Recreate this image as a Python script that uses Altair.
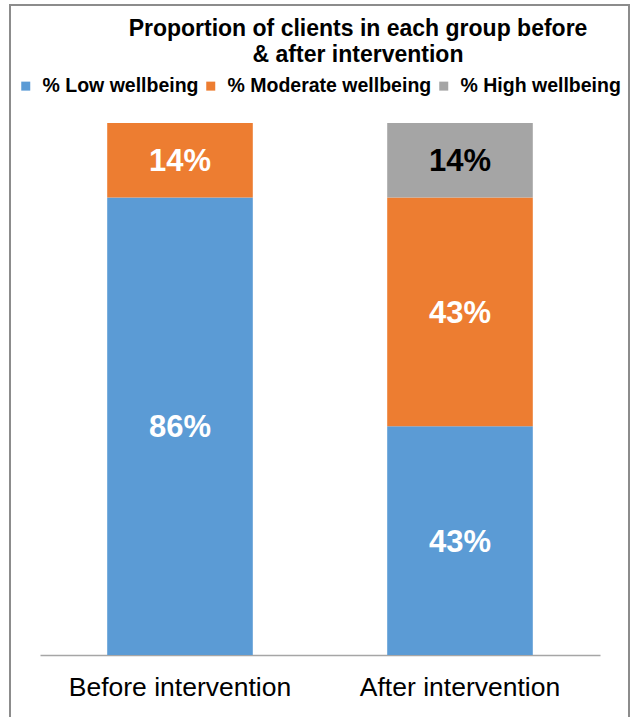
import altair as alt
import pandas as pd

groups = ["Before intervention", "After intervention"]
categories = ["% Low wellbeing", "% Moderate wellbeing", "% High wellbeing"]
before_vals = [86, 14, 0]
after_vals = [43, 43, 14]
colors = ["#5B9BD5", "#ED7D31", "#A5A5A5"]

rows = []
for g, vals in zip(groups, [before_vals, after_vals]):
    for i, (c, v) in enumerate(zip(categories, vals)):
        if v > 0:
            rows.append({"group": g, "cat": c, "idx": i, "value": v, "label": f"{v}%"})
df = pd.DataFrame(rows)

FONT = "Liberation Sans"

base = alt.Chart(df).transform_stack(
    stack="value", as_=["y0", "y1"], groupby=["group"], sort=[alt.SortField("idx", order="ascending")]
).transform_calculate(mid="(datum.y0 + datum.y1) / 2")

x = alt.X("group:N", sort=groups, title=None,
          scale=alt.Scale(paddingInner=0.48, paddingOuter=0.24),
          axis=alt.Axis(labelAngle=0, labelFont=FONT, labelFontSize=26.5, labelColor="#000000",
                        labelPadding=19, labelLimit=400, ticks=False,
                        domainColor="#A6A6A6", domainWidth=1.5))

bars = base.mark_bar().encode(
    x=x,
    y=alt.Y("y0:Q", scale=alt.Scale(domain=[0, 100]), axis=None),
    y2="y1:Q",
    color=alt.Color("cat:N", sort=categories,
                    scale=alt.Scale(domain=categories, range=colors),
                    legend=alt.Legend(title=None, orient="none", legendX=-24, legendY=-47,
                                      direction="horizontal", symbolType="square", symbolSize=81,
                                      symbolStrokeWidth=0, labelFont=FONT, labelFontSize=19.5,
                                      labelFontWeight="bold", labelColor="#000000", labelOffset=7,
                                      columnPadding=2, labelLimit=400)),
)

texts = base.mark_text(font=FONT, fontSize=31, fontWeight="bold", dy=2).encode(
    x=alt.X("group:N", sort=groups),
    y=alt.Y("mid:Q"),
    text="label:N",
    color=alt.condition(alt.datum.cat == "% High wellbeing", alt.value("#000000"), alt.value("#FFFFFF")),
)

border = alt.Chart(alt.Data(values=[{}])).mark_rect(filled=False, stroke="#8C8C8C", strokeWidth=2).encode(
    x=alt.value(-30), x2=alt.value(589), y=alt.value(-118), y2=alt.value(620)
)

chart = alt.layer(bars, texts, border).properties(
    width=560, height=532,
    padding={"left": 40, "top": 123, "right": 32, "bottom": 62},
    autosize=alt.AutoSizeParams(type="none"),
    title=alt.TitleParams(["Proportion of clients in each group before", "& after intervention"],
                          font=FONT, fontSize=23, fontWeight="bold", color="#000000",
                          anchor="middle", dx=38, dy=90, frame="group", baseline="bottom",
                          offset=4, lineHeight=26),
).configure_view(stroke=None)

chart.save("out.html", embed_options={"renderer": "svg", "actions": False})
